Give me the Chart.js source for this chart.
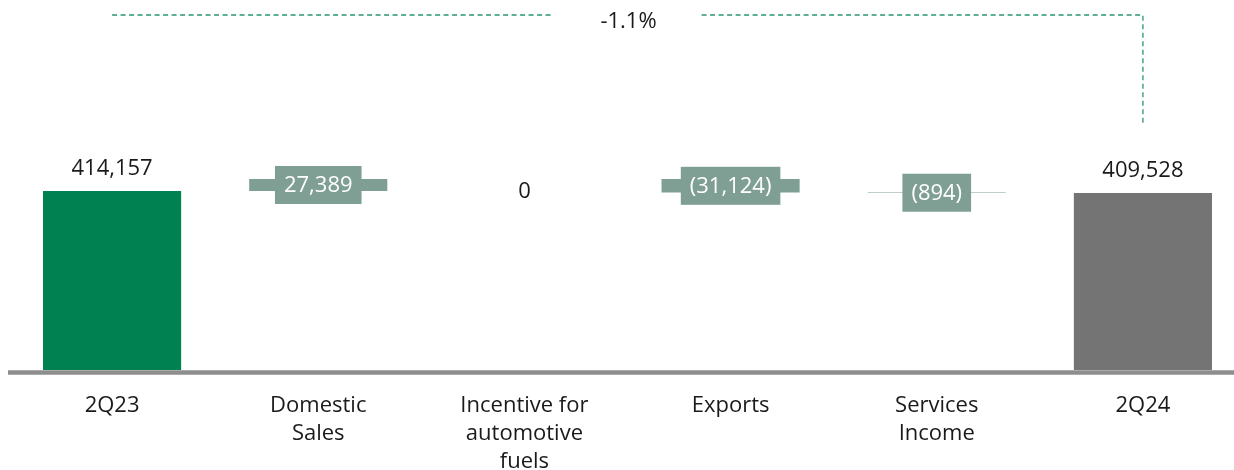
<!DOCTYPE html>
<html>
<head>
<meta charset="utf-8">
<script src="https://cdn.jsdelivr.net/npm/chart.js@4.4.0/dist/chart.umd.min.js"></script>
<style>
  html, body { margin: 0; padding: 0; background: #ffffff; overflow: hidden; }
  #wrap { width: 1246px; height: 470px; position: relative; }
</style>
</head>
<body>
<div id="wrap"><canvas id="c"></canvas></div>
<script>
// ---- data ----
const categories = ['2Q23', ['Domestic', 'Sales'], ['Incentive for', 'automotive', 'fuels'], 'Exports', ['Services', 'Income'], '2Q24'];
const values = [414157, 27389, 0, -31124, -894, 409528];
const kinds = ['total', 'delta', 'delta', 'delta', 'delta', 'total'];
const valueLabels = ['414,157', '27,389', '0', '(31,124)', '(894)', '409,528'];
const changeLabel = '-1.1%';

// ---- build floating ranges ----
let running = 0;
const ranges = values.map((v, i) => {
  if (kinds[i] === 'total') { running = v; return [0, v]; }
  const start = running; running += v; return [start, running];
});

const FONT = '"Open Sans", sans-serif';
const TEXT = '#1a1a1a';
const colors = ['rgb(0,129,82)', 'rgb(127,159,148)', 'rgb(127,159,148)', 'rgb(127,159,148)', 'rgb(127,159,148)', 'rgb(115,116,115)'];

const labelPlugin = {
  id: 'wfLabels',
  afterDatasetsDraw(chart) {
    const ctx = chart.ctx;
    const meta = chart.getDatasetMeta(0);
    const ys = chart.scales.y;
    ctx.save();
    meta.data.forEach((bar, i) => {
      const x = bar.x;
      const txt = valueLabels[i];
      if (kinds[i] === 'total') {
        ctx.font = '22px ' + FONT;
        ctx.fillStyle = TEXT;
        ctx.textAlign = 'center';
        ctx.textBaseline = 'alphabetic';
        ctx.fillText(txt, x, bar.y - 16);
      } else if (values[i] === 0) {
        ctx.font = '22px ' + FONT;
        ctx.fillStyle = TEXT;
        ctx.textAlign = 'center';
        ctx.textBaseline = 'middle';
        ctx.fillText(txt, x, ys.getPixelForValue(ranges[i][1]) + 13);
      } else {
        ctx.font = '22px ' + FONT;
        const w = ctx.measureText(txt).width + 18;
        const h = 38;
        const cy = (bar.y + bar.base) / 2;
        ctx.fillStyle = 'rgb(127,159,148)';
        ctx.fillRect(x - w / 2, cy - h / 2, w, h);
        ctx.fillStyle = '#ffffff';
        ctx.textAlign = 'center';
        ctx.textBaseline = 'middle';
        ctx.fillText(txt, x, cy + 1);
      }
    });
    // bracket
    const first = meta.data[0], last = meta.data[meta.data.length - 1];
    const topY = chart.chartArea.top;
    const midX = (first.x + last.x) / 2;
    ctx.font = '22px ' + FONT;
    const tw = ctx.measureText(changeLabel).width;
    const gap = tw / 2 + 46;
    ctx.strokeStyle = 'rgb(40,150,110)';
    ctx.lineWidth = 1.3;
    ctx.setLineDash([5, 3.5]);
    ctx.beginPath();
    ctx.moveTo(first.x, topY);
    ctx.lineTo(midX - gap, topY);
    ctx.moveTo(midX + gap, topY);
    ctx.lineTo(last.x, topY);
    ctx.lineTo(last.x, last.y - 68);
    ctx.stroke();
    ctx.setLineDash([]);
    ctx.fillStyle = TEXT;
    ctx.textAlign = 'center';
    ctx.textBaseline = 'middle';
    ctx.fillText(changeLabel, midX + 1, topY + 7);
    ctx.restore();
  }
};

const axisLinePlugin = {
  id: 'axisLine',
  afterDatasetsDraw(chart) {
    const ctx = chart.ctx;
    const y = chart.scales.y.getPixelForValue(0) + 2.5;
    ctx.save();
    ctx.strokeStyle = 'rgb(142,142,142)';
    ctx.lineWidth = 4.5;
    ctx.beginPath();
    ctx.moveTo(chart.chartArea.left - 1, y);
    ctx.lineTo(chart.width, y);
    ctx.stroke();
    ctx.restore();
  }
};

new Chart(document.getElementById('c'), {
  type: 'bar',
  data: {
    labels: categories,
    datasets: [{
      data: ranges,
      backgroundColor: colors,
      borderWidth: 0,
      borderSkipped: false,
      barPercentage: 0.67,
      categoryPercentage: 1.0
    }]
  },
  options: {
    responsive: true,
    maintainAspectRatio: false,
    animation: false,
    layout: { padding: { left: 9, right: 0, top: 15, bottom: 0 } },
    plugins: { legend: { display: false }, tooltip: { enabled: false } },
    scales: {
      x: {
        grid: { display: false, drawTicks: false },
        border: { display: false },
        ticks: { color: TEXT, font: { family: FONT, size: 22, weight: '400', lineHeight: 1.27 }, padding: 22, maxRotation: 0, autoSkip: false },
        afterFit(scale) { scale.height = 100; }
      },
      y: {
        display: false,
        min: 0,
        max: 821000
      }
    }
  },
  plugins: [axisLinePlugin, labelPlugin]
});
</script>
</body>
</html>
